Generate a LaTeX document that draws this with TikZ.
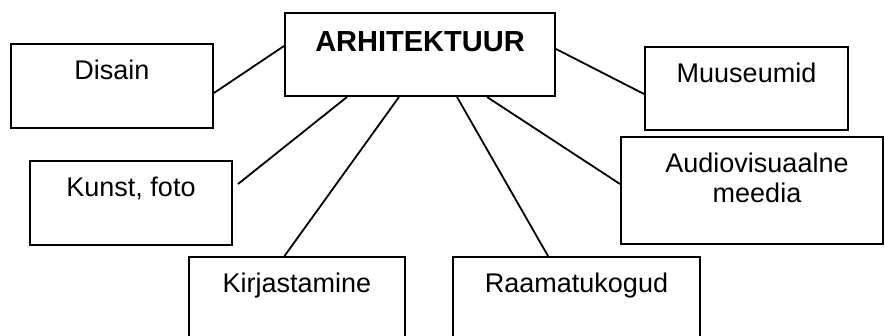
\documentclass[tikz,border=0pt]{standalone}
\usepackage{fontspec}
\setmainfont{Liberation Sans}
\usetikzlibrary{calc}
\begin{document}
\begin{tikzpicture}[x=1pt,y=-1pt,
  box/.style={draw,line width=2pt,rectangle,inner sep=0pt},
  txt/.style={anchor=base,inner sep=0pt,font=\fontsize{27}{30}\selectfont},
  ttl/.style={anchor=base,inner sep=0pt,font=\fontsize{29}{33}\selectfont\bfseries},
  link/.style={line width=1.8pt}]
\useasboundingbox (0,0) rectangle (885,336);
\clip (0,0) rectangle (885,336);
% boxes
\node[box,minimum width=270pt,minimum height=83pt] (arh) at (420,54.5) {};
\node[box,minimum width=202pt,minimum height=84pt] (dis) at (112,86) {};
\node[box,minimum width=203pt,minimum height=83pt] (muu) at (746.5,88.5) {};
\node[box,minimum width=262pt,minimum height=107pt] (aud) at (752,190.5) {};
\node[box,minimum width=202pt,minimum height=84pt] (kun) at (131,203) {};
\node[box,minimum width=216pt,minimum height=84pt] (kir) at (297,299) {};
\node[box,minimum width=247pt,minimum height=84pt] (raa) at (576.5,299) {};
% texts
\node[ttl] (tarh) at (420,52) {ARHITEKTUUR};
\node[txt] (tdis) at (112,80) {Disain};
\node[txt] (tmuu) at (746.5,83) {Muuseumid};
\node[txt] (taud1) at (757,173) {Audiovisuaalne};
\node[txt] (taud2) at (757,203) {meedia};
\node[txt] (tkun) at (131,197) {Kunst, foto};
\node[txt] (tkir) at (297,293) {Kirjastamine};
\node[txt] (traa) at (576.5,293) {Raamatukogud};
% connectors
\draw[link] ($(dis.north east)+(0,50)$) -- ($(arh.north west)+(0,34)$);
\draw[link] ($(arh.south west)+(63,0)$) -- ($(kun.north east)+(5,24)$);
\draw[link] ($(arh.south west)+(115,0)$) -- ($(kir.north west)+(96.5,0)$);
\draw[link] ($(arh.south west)+(173,0)$) -- ($(raa.north west)+(96,0)$);
\draw[link] ($(arh.south west)+(203,0)$) -- ($(aud.north west)+(0,48)$);
\draw[link] ($(arh.north east)+(0,37)$) -- ($(muu.north west)+(0,48)$);
\end{tikzpicture}
\end{document}
